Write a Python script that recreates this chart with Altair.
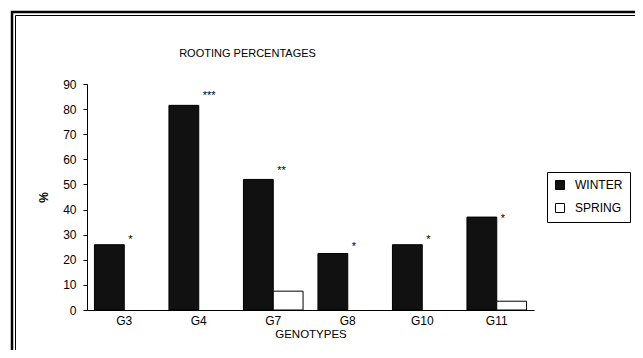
import altair as alt
import pandas as pd

genotypes = ["G3", "G4", "G7", "G8", "G10", "G11"]
winter = [26, 81.5, 52, 22.5, 26, 37]
spring = [0, 0, 7.5, 0, 0, 3.5]
stars = ["*", "***", "**", "*", "*", "*"]
star_levels = [28.9, 86.5, 56.4, 26.1, 28.9, 37.6]
seasons = ["WINTER", "SPRING"]
y_ticks = [0, 10, 20, 30, 40, 50, 60, 70, 80, 90]

rows = []
for g, w, s in zip(genotypes, winter, spring):
    rows.append({"genotype": g, "season": "WINTER", "value": w})
    rows.append({"genotype": g, "season": "SPRING", "value": s})
df = pd.DataFrame(rows)
df_star = pd.DataFrame({"genotype": genotypes, "star": stars, "level": star_levels})
one = pd.DataFrame({"a": [0]})

FONT = "Liberation Sans"

xaxis = alt.Axis(labelAngle=0, ticks=False, labelPadding=5, titlePadding=2,
                 domainColor="black", labelColor="black", titleColor="black",
                 labelFontSize=12, titleFontSize=11.5, titleFontWeight="normal",
                 labelFont=FONT, titleFont=FONT)
xscale = alt.Scale(domain=genotypes, paddingInner=0.2, paddingOuter=0.1)

yaxis = alt.Axis(values=y_ticks, grid=False, tickSize=4,
                 labelOverlap=False, labelPadding=7, titlePadding=12,
                 domainColor="black",
                 tickColor="black", labelColor="black", titleColor="black",
                 labelFontSize=12, titleFontSize=12, titleFontWeight="bold",
                 labelFont=FONT, titleFont=FONT)
yscale = alt.Scale(domain=[0, 90], nice=False)

bars = alt.Chart(df).transform_filter(alt.datum.value > 0).mark_bar(
    stroke="black", strokeWidth=1).encode(
    x=alt.X("genotype:N", sort=genotypes, title="GENOTYPES", scale=xscale, axis=xaxis),
    xOffset=alt.XOffset("season:N", sort=seasons,
                        scale=alt.Scale(domain=seasons, paddingInner=0, paddingOuter=0)),
    y=alt.Y("value:Q", title="%", scale=yscale, axis=yaxis),
    color=alt.Color("season:N", sort=seasons,
                    scale=alt.Scale(domain=seasons, range=["#111111", "#ffffff"]),
                    legend=alt.Legend(title=None, orient="none", legendX=460, legendY=88,
                                      symbolType="square", symbolSize=81,
                                      symbolStrokeColor="black", symbolStrokeWidth=1,
                                      labelFont=FONT, labelFontSize=12, labelColor="black",
                                      labelOffset=9, rowPadding=9, padding=7,
                                      strokeColor="black", fillColor="white")),
)

star_text = alt.Chart(df_star).mark_text(align="left", baseline="alphabetic", dx=4, dy=6,
                                         fontSize=11, font=FONT, color="black").encode(
    x=alt.X("genotype:N", sort=genotypes, title="GENOTYPES", scale=xscale, axis=xaxis),
    y=alt.Y("level:Q", title="%", scale=yscale, axis=yaxis),
    text="star:N",
)

title_text = alt.Chart(one).mark_text(align="center", baseline="alphabetic", fontSize=11,
                                      font=FONT, color="black").encode(
    x=alt.value(160.5), y=alt.value(-27), text=alt.value("ROOTING PERCENTAGES"))

frame_outer = alt.Chart(one).mark_rect(fillOpacity=0, stroke="black", strokeWidth=2.5).encode(
    x=alt.value(-75), x2=alt.value(800), y=alt.value(-72), y2=alt.value(800))
frame_inner = alt.Chart(one).mark_rect(fillOpacity=0, stroke="black", strokeWidth=1).encode(
    x=alt.value(-71.5), x2=alt.value(800), y=alt.value(-68.5), y2=alt.value(800))

chart = alt.layer(frame_outer, frame_inner, title_text, bars, star_text).properties(
    width=447, height=226,
    padding={"left": 79, "top": 76, "right": 101, "bottom": 40},
    autosize=alt.AutoSizeParams(type="none"),
    background="white",
).configure_view(stroke="transparent")

chart.save("out.html", embed_options={"renderer": "svg", "actions": False})
